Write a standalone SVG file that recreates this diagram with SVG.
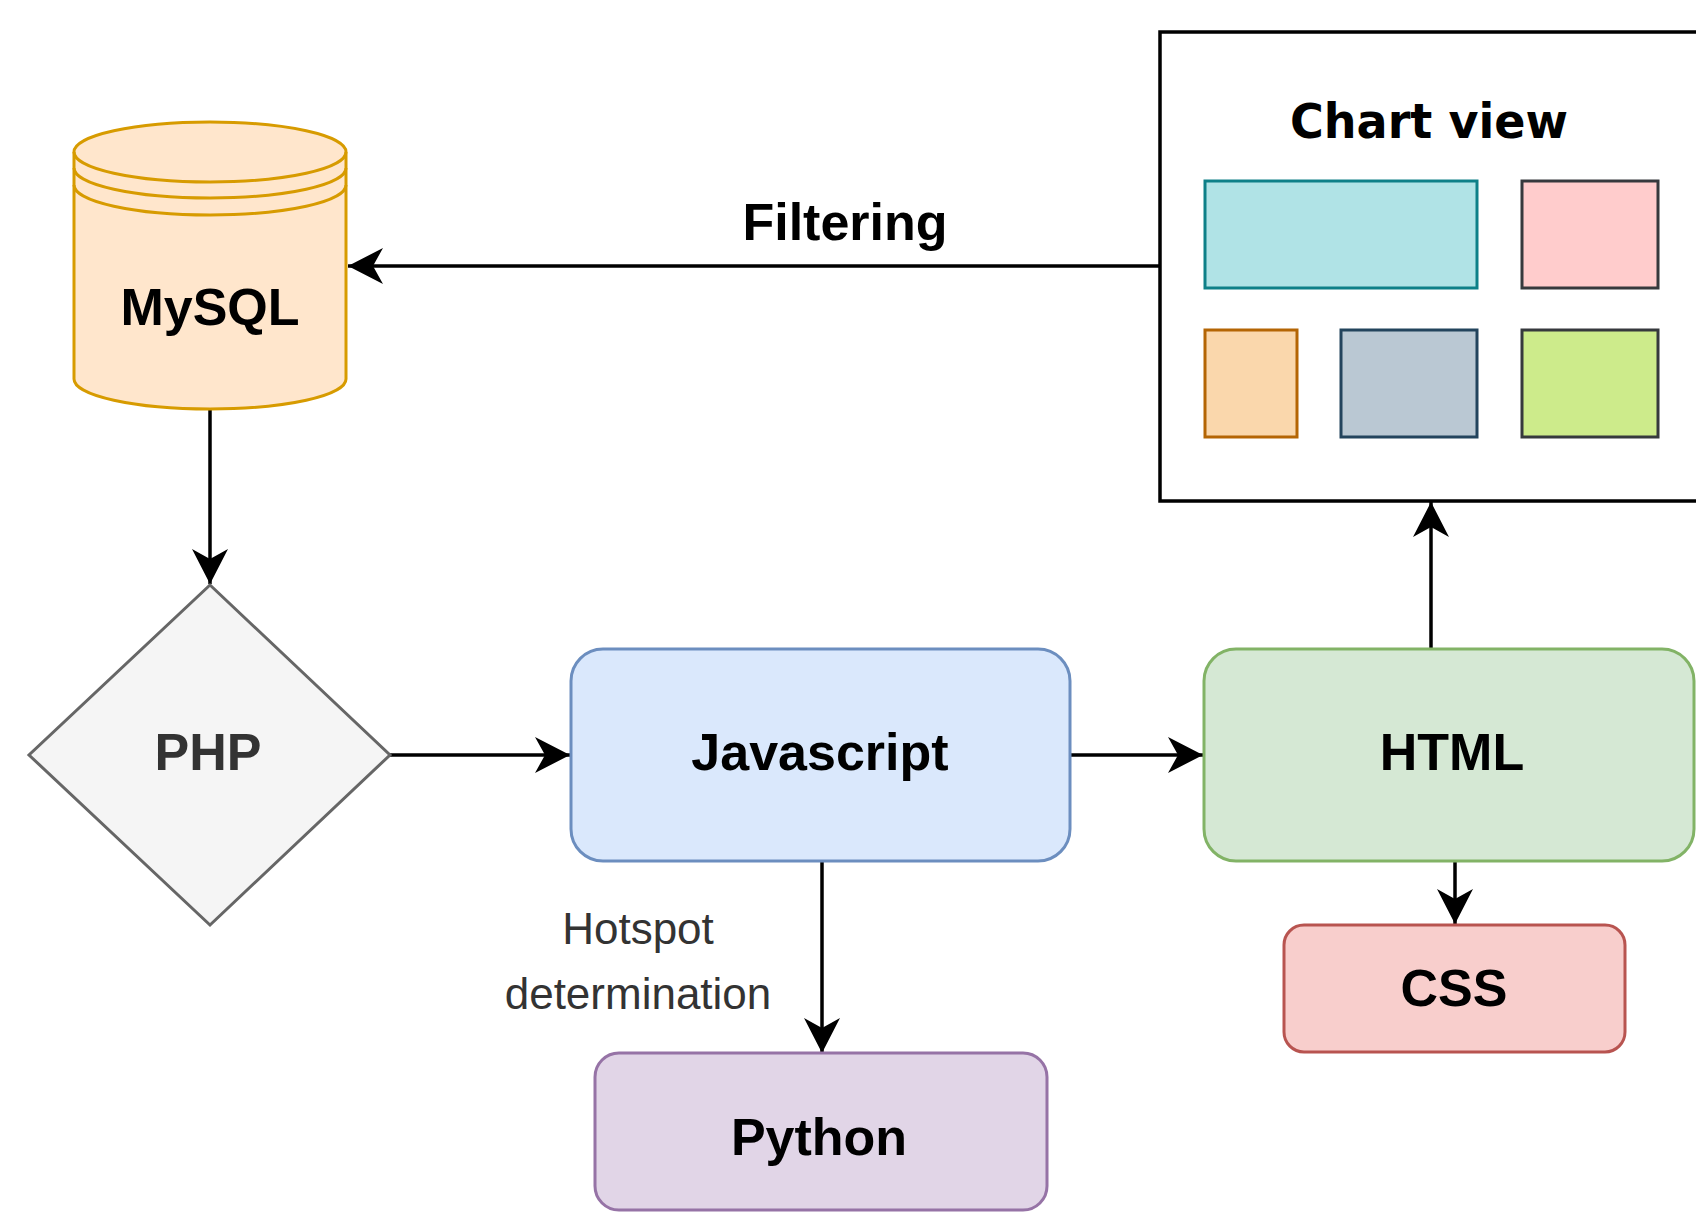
<svg xmlns="http://www.w3.org/2000/svg" width="1696" height="1212" viewBox="0 0 1696 1212">
<style>
.lbl{font-family:"Liberation Sans",Arial,sans-serif;font-weight:bold;font-size:52px;text-anchor:middle;fill:#000}
.note{font-family:"Liberation Sans",Arial,sans-serif;font-size:44px;text-anchor:middle;fill:#333}
.conn{fill:none;stroke:#000;stroke-width:3.5}
.cell{stroke-width:3}
</style>
<defs>
<marker id="arr" markerUnits="userSpaceOnUse" markerWidth="38" markerHeight="38" refX="35" refY="18" orient="auto">
<path d="M0,0 L35,18 L0,36 L10,18 Z" fill="#000"/>
</marker>
</defs>
<rect width="1696" height="1212" fill="#fff"/>

<g id="connectors">
<line class="conn" x1="1160" y1="266" x2="348" y2="266" marker-end="url(#arr)"/>
<line class="conn" x1="210" y1="409" x2="210" y2="584" marker-end="url(#arr)"/>
<line class="conn" x1="390" y1="755" x2="570" y2="755" marker-end="url(#arr)"/>
<line class="conn" x1="1070" y1="755" x2="1203" y2="755" marker-end="url(#arr)"/>
<line class="conn" x1="1431" y1="648" x2="1431" y2="502" marker-end="url(#arr)"/>
<line class="conn" x1="1455" y1="862" x2="1455" y2="924" marker-end="url(#arr)"/>
<line class="conn" x1="822" y1="862" x2="822" y2="1053" marker-end="url(#arr)"/>
<text x="845" y="240" class="lbl">Filtering</text>
<text x="638" y="944" class="note">Hotspot</text>
<text x="638" y="1009" class="note">determination</text>
</g>

<g id="mysql">
<path d="M74,152 A136,30 0 0 1 346,152 L346,379 A136,30 0 0 1 74,379 Z" fill="#ffe6cc" stroke="#d79b00" stroke-width="3"/>
<path d="M74,152 A136,30 0 0 0 346,152 M74,168 A136,30 0 0 0 346,168 M74,185 A136,30 0 0 0 346,185" fill="none" stroke="#d79b00" stroke-width="3"/>
<text x="210" y="325" class="lbl">MySQL</text>
</g>

<g id="chart-view">
<rect x="1160" y="32" width="560" height="469" fill="#fff" stroke="#000" stroke-width="3.5"/>
<text x="1429" y="138" font-family="'DejaVu Sans',sans-serif" font-weight="bold" font-size="48" text-anchor="middle" textLength="278" lengthAdjust="spacingAndGlyphs" fill="#000">Chart view</text>
<rect class="cell" x="1205" y="181" width="272" height="107" fill="#b0e3e6" stroke="#0e8088"/>
<rect class="cell" x="1522" y="181" width="136" height="107" fill="#ffcccc" stroke="#36393d"/>
<rect class="cell" x="1205" y="330" width="92" height="107" fill="#fad7ac" stroke="#b46504"/>
<rect class="cell" x="1341" y="330" width="136" height="107" fill="#bac8d3" stroke="#23445d"/>
<rect class="cell" x="1522" y="330" width="136" height="107" fill="#cdeb8b" stroke="#36393d"/>
</g>

<g id="php">
<polygon points="210,585 390,755 210,925 29,755" fill="#f5f5f5" stroke="#666" stroke-width="3"/>
<text x="208" y="770" class="lbl" style="fill:#333">PHP</text>
</g>

<g id="javascript">
<rect x="571" y="649" width="499" height="212" rx="32" ry="32" fill="#dae8fc" stroke="#6c8ebf" stroke-width="3"/>
<text x="820" y="770" class="lbl">Javascript</text>
</g>

<g id="html">
<rect x="1204" y="649" width="490" height="212" rx="32" ry="32" fill="#d5e8d4" stroke="#82b366" stroke-width="3"/>
<text x="1452" y="770" class="lbl">HTML</text>
</g>

<g id="css">
<rect x="1284" y="925" width="341" height="127" rx="20" ry="20" fill="#f8cecc" stroke="#b85450" stroke-width="3"/>
<text x="1454" y="1006" class="lbl">CSS</text>
</g>

<g id="python">
<rect x="595" y="1053" width="452" height="157" rx="24" ry="24" fill="#e1d5e7" stroke="#9673a6" stroke-width="3"/>
<text x="819" y="1155" class="lbl">Python</text>
</g>
</svg>
